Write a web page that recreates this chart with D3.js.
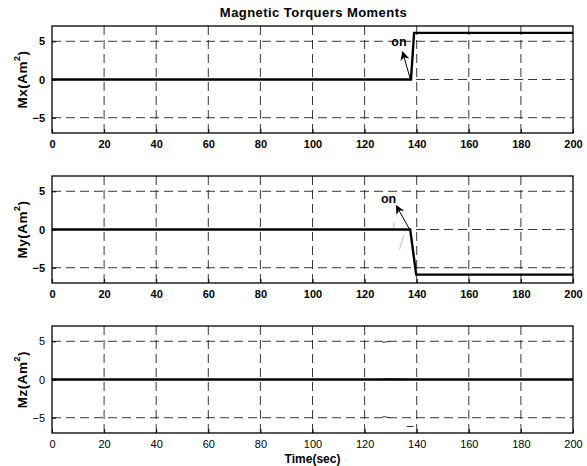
<!DOCTYPE html>
<html>
<head>
<meta charset="utf-8">
<script src="https://cdn.jsdelivr.net/npm/d3@7"></script>
<style>
  html, body { margin: 0; padding: 0; background: #fff; }
  svg { display: block; font-family: "Liberation Sans", Arial, Helvetica, sans-serif; }
</style>
</head>
<body>
<svg id="chart" width="587" height="466"></svg>
<script>
// ---------- data ----------
const title = "Magnetic Torquers Moments";
const xLabel = "Time(sec)";
const xTicks = [0, 20, 40, 60, 80, 100, 120, 140, 160, 180, 200];
const yTicks = [-5, 0, 5];
const xDomain = [0, 200];
const yDomain = [-7, 7];

const panelNames = ["Mx", "My", "Mz"];

const mxTime = [0, 137.8, 139, 200];
const mxValue = [0, 0, 6.1, 6.1];
const myTime = [0, 137.5, 139.8, 200];
const myValue = [0, 0, -5.9, -5.9];
const mzTime = [0, 200];
const mzValue = [0, 0];

// annotation "on" : arrow tail (t,v), arrow head (t,v), text (t,v)
const mxArrow = [[137.6, 0], [134.6, 3.6]];
const mxText = [133.2, 5.0];
const myArrow = [[137.3, 0], [132.2, 3.1]];
const myText = [129.2, 4.1];

// faint residual traces
const myGhost = [
  [[131.2, 0.9], [131.2, 0]],
  [[135.0, -0.8], [133.4, -2.6]],
  [[131.0, -5.1], [132.0, -5.1]]
];
const mzGhost = [
  [[127.0, 4.85], [130.0, 5.0]],
  [[127.0, 0.1], [141.0, 0.0]],
  [[127.0, -4.85], [130.0, -5.0]],
  [[136.2, -6.15], [138.8, -6.15]]
];

// ---------- layout ----------
const svg = d3.select("#chart");
const left = 52, right = 573;
const panelTops = [26, 176, 326];
const panelH = 107;

const x = d3.scaleLinear().domain(xDomain).range([left, right]);

svg.append("text")
  .attr("x", (left + right) / 2 + 1).attr("y", 17)
  .attr("text-anchor", "middle")
  .attr("font-size", 13).attr("font-weight", "bold")
  .attr("letter-spacing", 0.45)
  .text(title);

const series = [
  {t: mxTime, v: mxValue, arrow: mxArrow, text: mxText, ghost: [], boldTicks: true},
  {t: myTime, v: myValue, arrow: myArrow, text: myText, ghost: myGhost, boldTicks: true},
  {t: mzTime, v: mzValue, arrow: null, text: null, ghost: mzGhost, boldTicks: false}
];

const defs = svg.append("defs");
defs.append("marker")
  .attr("id", "arrowhead")
  .attr("viewBox", "0 0 10 10")
  .attr("refX", 9).attr("refY", 5)
  .attr("markerWidth", 9).attr("markerHeight", 9)
  .attr("markerUnits", "userSpaceOnUse")
  .attr("orient", "auto")
  .append("path").attr("d", "M0,0 L10,5 L0,10 L3,5 Z").attr("fill", "#000");

series.forEach((s, i) => {
  const top = panelTops[i];
  const y = d3.scaleLinear().domain(yDomain).range([top + panelH, top]);
  const g = svg.append("g");

  // grid
  g.selectAll(".vgrid").data(xTicks.slice(1, -1)).enter().append("line")
    .attr("x1", d => x(d)).attr("x2", d => x(d))
    .attr("y1", top).attr("y2", top + panelH)
    .attr("stroke", "#222").attr("stroke-width", 0.9)
    .attr("stroke-dasharray", "9,5");
  g.selectAll(".hgrid").data(yTicks).enter().append("line")
    .attr("x1", left).attr("x2", right)
    .attr("y1", d => y(d)).attr("y2", d => y(d))
    .attr("stroke", "#222").attr("stroke-width", 0.9)
    .attr("stroke-dasharray", "9,5");

  // axes (ticks inward)
  const fw = s.boldTicks ? "bold" : "normal";
  const xa = g.append("g").attr("transform", `translate(0,${top + panelH})`)
    .call(d3.axisBottom(x).tickValues(xTicks).tickSize(-4).tickPadding(7).tickFormat(d3.format("d")));
  const ya = g.append("g").attr("transform", `translate(${left},0)`)
    .call(d3.axisLeft(y).tickValues(yTicks).tickSize(-4).tickPadding(7).tickFormat(d3.format("d")));
  [xa, ya].forEach(a => {
    a.select(".domain").remove();
    a.selectAll("line").attr("stroke", "#000");
    a.selectAll("text").attr("font-size", 11).attr("font-weight", fw)
      .attr("font-family", "Liberation Sans, Arial, sans-serif").attr("fill", "#000");
  });

  // frame
  g.append("rect")
    .attr("x", left).attr("y", top).attr("width", right - left).attr("height", panelH)
    .attr("fill", "none").attr("stroke", "#000").attr("stroke-width", 1.3);

  // ghost traces
  g.selectAll(".ghost").data(s.ghost).enter().append("line")
    .attr("x1", d => x(d[0][0])).attr("y1", d => y(d[0][1]))
    .attr("x2", d => x(d[1][0])).attr("y2", d => y(d[1][1]))
    .attr("stroke", i === 2 ? "#333" : "#bbb").attr("stroke-width", 1);

  // data line
  const pts = s.t.map((t, k) => [t, s.v[k]]);
  g.append("path").datum(pts)
    .attr("d", d3.line().x(d => x(d[0])).y(d => y(d[1])))
    .attr("fill", "none").attr("stroke", "#000").attr("stroke-width", 2.4)
    .attr("stroke-linejoin", "miter");

  // annotation
  if (s.arrow) {
    g.append("line")
      .attr("x1", x(s.arrow[0][0])).attr("y1", y(s.arrow[0][1]))
      .attr("x2", x(s.arrow[1][0])).attr("y2", y(s.arrow[1][1]))
      .attr("stroke", "#000").attr("stroke-width", 1)
      .attr("marker-end", "url(#arrowhead)");
    g.append("text")
      .attr("x", x(s.text[0])).attr("y", y(s.text[1]))
      .attr("dy", "0.35em")
      .attr("text-anchor", "middle")
      .attr("font-size", 12.5).attr("font-weight", "bold")
      .text("on");
  }

  // y label
  const yl = g.append("text")
    .attr("transform", `translate(27,${top + panelH / 2}) rotate(-90)`)
    .attr("text-anchor", "middle")
    .attr("font-size", 13.5).attr("font-weight", "bold")
    .attr("letter-spacing", 0.5);
  yl.append("tspan").text(panelNames[i] + "(Am");
  yl.append("tspan").attr("font-size", 9).attr("dy", -7).text("2");
  yl.append("tspan").attr("dy", 7).text(")");
});

svg.append("text")
  .attr("x", (left + right) / 2).attr("y", 463)
  .attr("text-anchor", "middle")
  .attr("font-size", 12).attr("font-weight", "bold")
  .text(xLabel);
</script>
</body>
</html>
